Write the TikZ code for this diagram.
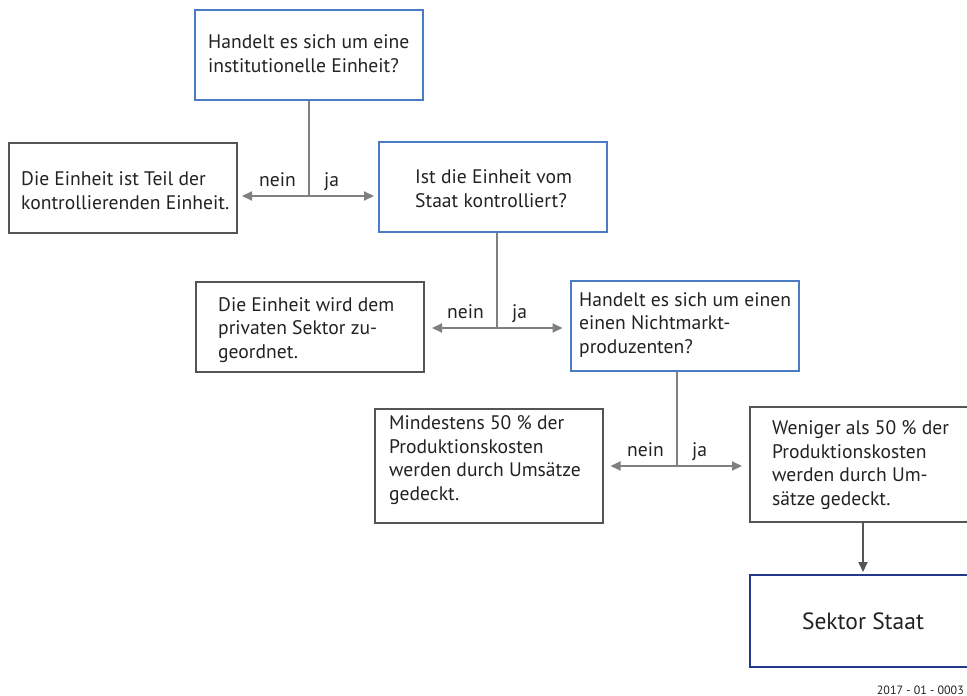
\documentclass[tikz,border=0pt]{standalone}
\usepackage{fontspec}
\setmainfont{PT Sans}
\usetikzlibrary{calc}
\usetikzlibrary{arrows.meta}
\definecolor{frageblau}{RGB}{74,124,196}
\definecolor{staatblau}{RGB}{36,56,140}
\definecolor{boxgrau}{RGB}{85,85,85}
\definecolor{pfeilgrau}{RGB}{128,128,128}
\definecolor{textgrau}{RGB}{34,34,34}

\begin{document}
\begin{tikzpicture}[x=1pt, y=-1pt,
  box/.style={draw, line width=2pt, minimum width=228pt, minimum height=90pt, inner sep=0pt},
  frage/.style={box, draw=frageblau},
  antwort/.style={box, draw=boxgrau},
  txt/.style={anchor=west, align=left, inner sep=0pt, text=textgrau, font=\fontsize{19.6}{23.7}\selectfont},
  wahl/.style={inner sep=0pt, text=textgrau, font=\fontsize{19.6}{23.7}\selectfont},
  linie/.style={draw=pfeilgrau, line width=2pt},
  pfeil/.style={linie, -{Triangle[length=10pt,width=9pt]}}]
\useasboundingbox (0,0) rectangle (967,696);

\node[frage] (q1) at (309,55) {};
\node[txt] (q1t) at (208,54) {Handelt es sich um eine\\institutionelle Einheit?};
\node[antwort] (r1) at (123,188) {};
\node[txt] (r1t) at (21,191) {Die Einheit ist Teil der\\kontrollierenden Einheit.};
\node[frage] (q2) at (493,187) {};
\node[txt] (q2t) at (415,189) {Ist die Einheit vom\\Staat kontrolliert?};
\node[antwort] (r2) at (310,327) {};
\node[txt] (r2t) at (218,330) {Die Einheit wird dem\\privaten Sektor zu-\\geordnet.};
\node[frage] (q3) at (684.5,326) {};
\node[txt] (q3t) at (579,325) {Handelt es sich um einen\\einen Nichtmarkt-\\produzenten?};
\node[antwort, minimum height=114pt] (r3) at (488.5,466) {};
\node[txt] (r3t) at (389,460) {Mindestens 50~\% der\\Produktionskosten\\werden durch Umsätze\\gedeckt.};
\node[antwort, minimum width=226pt, minimum height=115pt] (r4) at (863,464.5) {};
\node[txt] (r4t) at (772,465) {Weniger als 50~\% der\\Produktionskosten\\werden durch Um-\\sätze gedeckt.};
\node[box, draw=staatblau, minimum width=226pt, minimum height=92pt, text=textgrau, font=\fontsize{23.5}{28}\selectfont] (staat) at (863,621) {Sektor Staat};

\coordinate (j1) at (309,196);
\coordinate (j2) at (497,328);
\coordinate (j3) at (677,466);
\foreach \jp/\qu/\li/\re/\ab in {j1/q1/r1/q2/4, j2/q2/r2/q3/7, j3/q3/r3/r4/7} {
 \draw[linie] (\jp |- \qu.south) -- (\jp);
 \draw[pfeil, shorten >=\ab pt] (\jp) -- (\jp -| \li.east);
 \draw[pfeil, shorten >=\ab pt] (\jp) -- (\jp -| \re.west);
 \node[wahl, anchor=base east] (nein\jp) at ([xshift=-13pt, yshift=10pt]\jp) {nein};
 \node[wahl, anchor=base west] (ja\jp) at ([xshift=15pt, yshift=10pt]\jp) {ja};
}
\draw[pfeil, draw=boxgrau, shorten >=2pt] (r4.south) -- (staat.north);

\node[anchor=base east, inner sep=0pt, text=textgrau, font=\fontsize{12}{14}\selectfont] (nr) at (964,694) {2017 - 01 - 0003};
\end{tikzpicture}
\end{document}
